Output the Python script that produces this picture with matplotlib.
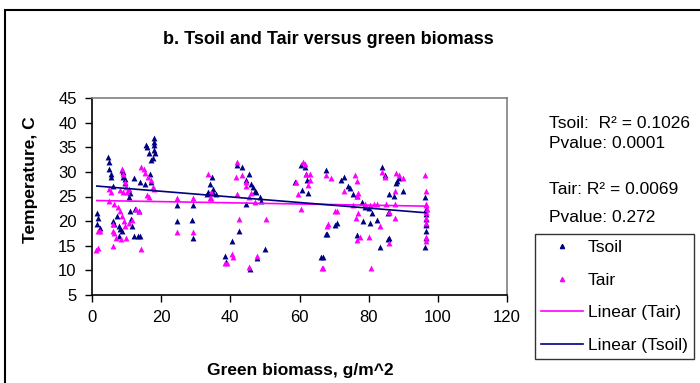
#!/usr/bin/env python3
"""Tsoil and Tair versus green biomass (scatter with linear trends)."""

import matplotlib

matplotlib.use("Agg")
import matplotlib.pyplot as plt
from matplotlib.lines import Line2D
from matplotlib.patches import Rectangle
import numpy as np

plt.rcParams["font.family"] = ["Liberation Sans", "DejaVu Sans"]

# --- data --------------------------------------------------------------------
tsoil_x = [1.4, 1.8, 1.5, 2.2, 4.6, 5.0, 5.0, 5.4, 5.6, 6.2, 6.0, 6.4, 7.2, 7.8,
           8.2, 8.6, 7.8, 8.6, 9.0, 9.4, 9.0, 9.5, 11.0, 10.6, 11.0, 11.4, 11.5,
           12.0, 12.0, 12.5, 13.5, 13.2, 14.0, 14.0, 15.4, 16.0, 16.5, 15.6,
           17.8, 17.9, 18.0, 17.8, 18.2, 17.6, 17.2, 16.8, 17.2, 24.5, 24.5,
           29.3, 29.0, 29.3, 34.7, 34.2, 35.0, 33.5, 33.2, 35.0, 35.8, 40.5,
           38.5, 38.7, 42.0, 43.5, 45.4, 44.5, 46.0, 46.5, 47.0, 47.5, 48.7,
           49.0, 44.6, 42.5, 50.0, 47.7, 45.8, 60.5, 61.5, 61.9, 62.3, 58.7,
           60.7, 62.4, 67.7, 73.0, 72.0, 74.0, 74.5, 75.5, 76.5, 78.0, 79.0,
           80.0, 81.0, 78.5, 80.5, 70.7, 70.4, 68.0, 67.6, 76.5, 66.3, 66.8,
           83.8, 84.7, 88.7, 88.3, 88.0, 89.8, 85.8, 87.3, 85.8, 85.5, 85.8,
           85.5, 83.3, 82.3, 96.3, 96.5, 96.5, 96.5, 96.5, 96.5, 96.5, 96.5,
           96.3]
tsoil_y = [21.7, 20.6, 19.4, 18.6, 33.1, 32.0, 30.5, 29.5, 28.9, 27.2, 20.0,
           19.5, 21.0, 19.0, 18.5, 18.0, 17.0, 30.4, 29.0, 27.8, 30.0, 28.5,
           25.7, 25.0, 22.0, 20.5, 19.0, 17.0, 28.8, 22.4, 22.0, 17.0, 17.0,
           28.0, 27.5, 35.1, 33.8, 35.5, 36.9, 36.1, 35.5, 34.5, 33.8, 32.8,
           32.4, 29.5, 28.0, 23.3, 20.0, 23.3, 20.3, 16.6, 29.0, 27.5, 26.5,
           26.0, 25.5, 25.8, 25.5, 15.9, 13.0, 11.6, 31.4, 31.0, 29.6, 28.3,
           27.5, 26.9, 26.2, 25.9, 25.0, 24.0, 23.4, 17.9, 14.3, 12.6, 10.2,
           31.4, 31.0, 29.6, 28.3, 27.9, 26.3, 25.8, 30.4, 29.0, 28.4, 27.1,
           26.8, 25.5, 25.2, 23.9, 22.9, 22.6, 21.6, 20.0, 19.6, 19.7, 19.3,
           17.4, 17.4, 17.1, 12.8, 12.8, 31.0, 29.4, 28.8, 28.1, 27.8, 26.1,
           25.5, 25.2, 21.9, 21.6, 16.6, 16.3, 14.7, 20.3, 24.9, 22.5, 21.5,
           20.5, 19.5, 19.2, 17.9, 16.6, 14.7]

tair_x = [1.7, 1.2, 1.7, 2.2, 5.0, 5.6, 5.0, 6.5, 7.5, 8.0, 8.8, 9.2, 9.6, 6.0,
          6.0, 6.5, 7.0, 6.0, 8.5, 9.8, 8.6, 9.0, 9.4, 9.8, 10.6, 10.2, 9.0,
          8.2, 10.8, 11.5, 12.8, 13.6, 14.3, 14.2, 15.0, 15.4, 16.2, 17.2,
          17.6, 18.0, 16.0, 16.5, 24.5, 29.3, 24.5, 29.3, 33.5, 34.5, 34.5,
          34.0, 40.5, 39.0, 38.6, 42.0, 41.5, 43.3, 44.5, 44.5, 42.0, 45.5,
          46.0, 47.0, 42.5, 50.2, 40.8, 47.7, 45.3, 61.0, 62.0, 63.0, 63.0,
          59.0, 59.5, 60.5, 61.5, 67.7, 69.0, 76.0, 76.5, 73.0, 62.4, 77.0,
          76.5, 70.3, 70.7, 75.5, 77.0, 76.3, 68.3, 68.0, 77.5, 76.5, 80.0,
          80.7, 66.4, 66.8, 79.0, 80.3, 81.5, 83.8, 84.7, 88.0, 88.7, 89.8,
          87.5, 87.5, 85.8, 87.5, 83.3, 85.8, 82.3, 85.0, 96.3, 96.5, 96.5,
          96.5, 96.8, 96.5, 96.5, 96.5, 96.5, 96.5]
tair_y = [14.6, 14.2, 18.0, 18.0, 26.5, 26.0, 24.0, 23.4, 22.9, 22.0, 21.0,
          20.0, 19.0, 19.5, 18.0, 17.5, 16.6, 15.0, 16.3, 16.6, 30.5, 29.5,
          28.0, 27.0, 26.5, 26.0, 26.0, 26.4, 19.6, 20.3, 22.4, 22.0, 14.4,
          31.0, 30.5, 29.8, 29.0, 28.4, 27.0, 26.5, 25.3, 25.0, 24.7, 24.7,
          17.8, 17.8, 29.6, 26.0, 24.7, 24.7, 13.3, 11.4, 11.4, 32.0, 29.0,
          29.3, 28.0, 27.2, 25.5, 24.9, 25.8, 23.9, 20.5, 20.5, 12.8, 13.0,
          10.7, 32.0, 29.6, 29.6, 28.3, 27.9, 25.5, 22.5, 31.5, 29.4, 28.8,
          29.4, 28.1, 26.1, 27.4, 25.8, 25.2, 22.0, 22.0, 23.2, 21.6, 20.7,
          19.4, 19.0, 16.8, 16.2, 16.8, 10.4, 10.4, 10.4, 23.5, 23.2, 23.5,
          30.0, 29.0, 29.7, 29.4, 28.8, 26.1, 23.5, 21.9, 20.7, 19.0, 15.6,
          23.5, 23.5, 29.4, 26.1, 23.5, 23.2, 22.5, 21.9, 20.7, 19.7, 16.8,
          15.9]

# linear trends (intercept, slope) as shown in the picture
tsoil_fit = (27.2, -0.057)
tair_fit = (24.2, -0.012)

stats_text = [
    "Tsoil:  R\u00b2 = 0.1026",
    "Pvalue: 0.0001",
    "Tair: R\u00b2 = 0.0069",
    "Pvalue: 0.272",
]

navy = "#000080"
magenta = "#FF00FF"

fig = plt.figure(figsize=(7.0, 3.83), dpi=100)
ax = fig.add_axes([92 / 700, 1 - 295 / 383, 415 / 700, 197 / 383])

ax.scatter(tsoil_x, tsoil_y, marker="^", s=18, color=navy, linewidths=0, zorder=3)
ax.scatter(tair_x, tair_y, marker="^", s=18, color=magenta, linewidths=0, zorder=3)

xs = np.array([min(tsoil_x), max(tsoil_x)])
ax.plot(xs, tair_fit[0] + tair_fit[1] * xs, color=magenta, lw=1.2, zorder=4)
ax.plot(xs, tsoil_fit[0] + tsoil_fit[1] * xs, color=navy, lw=1.2, zorder=4)

ax.set_xlim(0, 120)
ax.set_ylim(5, 45)
ax.set_xticks(np.arange(0, 121, 20))
ax.set_yticks(np.arange(5, 46, 5))
ax.tick_params(direction="out", length=5, width=1, labelsize=12, colors="black", pad=6)
for side in ("top", "right"):
    ax.spines[side].set_color("#808080")
for side in ("left", "bottom"):
    ax.spines[side].set_color("black")
for sp in ax.spines.values():
    sp.set_linewidth(1.2)

fig.text(328 / 700, 1 - 40 / 383, "b. Tsoil and Tair versus green biomass",
         ha="center", va="center", fontsize=13, fontweight="bold")
fig.text(300 / 700, 1 - 370 / 383, "Green biomass, g/m^2",
         ha="center", va="center", fontsize=12.5, fontweight="bold")
fig.text(30 / 700, 1 - 180 / 383, "Temperature, C", rotation=90,
         ha="center", va="center", fontsize=12.5, fontweight="bold")

for txt, ypix in zip(stats_text, [124, 143, 189, 217]):
    fig.text(549 / 700, 1 - ypix / 383, txt, ha="left", va="center", fontsize=12.5)

handles = [
    Line2D([], [], ls="none", marker="^", ms=3, color=navy),
    Line2D([], [], ls="none", marker="^", ms=3, color=magenta),
    Line2D([], [], color=magenta, lw=1.2),
    Line2D([], [], color=navy, lw=1.2),
]
labels = ["Tsoil", "Tair", "Linear (Tair)", "Linear (Tsoil)"]
leg = fig.legend(handles, labels, loc="upper left",
                 bbox_to_anchor=(535 / 700, 1 - 234 / 383), fontsize=12.5,
                 frameon=True, fancybox=False, edgecolor="black", borderpad=0.35,
                 handlelength=2.4, handletextpad=0.3, labelspacing=1.0,
                 borderaxespad=0)
leg.get_frame().set_linewidth(1.0)

# outer chart frame
fig.patches.append(Rectangle((5 / 700, -0.1), 1.2, 1 - 10 / 383 + 0.1,
                             transform=fig.transFigure, fill=False,
                             edgecolor="black", lw=1.5))

fig.savefig("out.png", dpi=100)
